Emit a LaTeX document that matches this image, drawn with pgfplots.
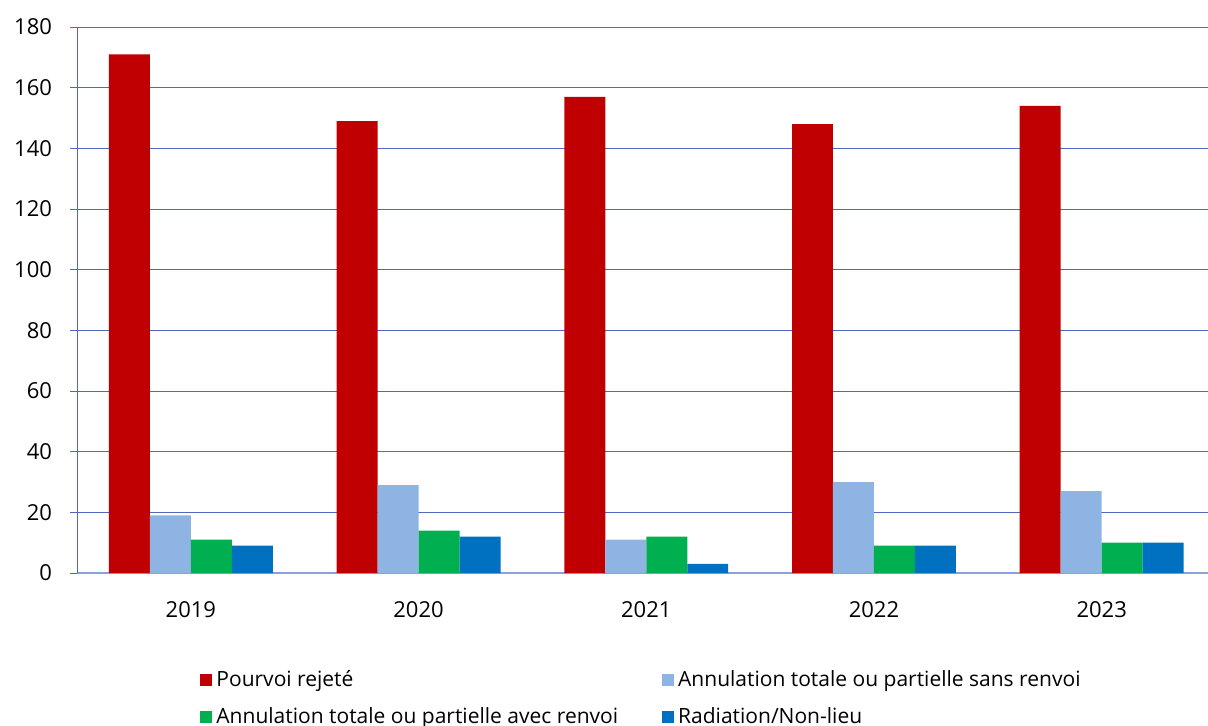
\documentclass[border=0pt]{standalone}
\usepackage{fontspec}
\setmainfont{Open Sans}
\usepackage{pgfplots}
\pgfplotsset{compat=1.18}
\definecolor{cRed}{RGB}{192,0,0}
\definecolor{cLight}{RGB}{142,180,227}
\definecolor{cGreen}{RGB}{0,176,80}
\definecolor{cBlue}{RGB}{0,112,192}
\definecolor{gridblue}{RGB}{80,104,190}
\definecolor{axblue}{RGB}{140,160,220}
\begin{document}
\begin{tikzpicture}[font=\fontsize{10.5}{12.6}\selectfont]
\useasboundingbox (-38.5pt,-76pt) rectangle (565.5pt,286.5pt);
\begin{axis}[
    scale only axis,
    width=565.5pt, height=273pt,
    xmin=-0.5, xmax=4.467,
    ymin=0, ymax=180,
    ytick={0,20,...,180},
    xtick={0,1,2,3,4},
    xticklabels={2019,2020,2021,2022,2023},
    major x tick style={draw=none},
    extra x ticks={-0.5,0.5,1.5,2.5,3.5},
    extra x tick labels={},
    extra x tick style={major tick length=4pt, tick align=outside,
        major tick style={draw=axblue, line width=0.6pt}, grid=none},
    axis lines*=left,
    y axis line style={draw=gridblue, line width=0.5pt},
    x axis line style={draw=axblue, line width=0.7pt},
    ymajorgrids,
    grid style={draw=gridblue, line width=0.5pt},
    major y tick style={draw=gridblue, line width=0.5pt},
    tick align=outside,
    major tick length=3.5pt,
    /pgf/number format/assume math mode=true,
    yticklabel style={xshift=-5.5pt, font=\fontsize{11}{13}\selectfont},
    xticklabel style={yshift=-7pt, font=\fontsize{11}{13}\selectfont},
    ybar=0pt, bar width=0.18,
    clip=false,
    legend columns=2,
    legend cell align=left,
    legend style={draw=none, fill=none, inner sep=0pt,
        at={(0.1088,-0.17)}, anchor=north west,
        /tikz/every even column/.append style={column sep=20pt},
        row sep=5pt},
    legend image code/.code={\fill[#1] (0pt,-3pt) rectangle (6pt,3pt);},
]
\addplot[fill=cRed, draw=none, bar shift=-0.27] coordinates {(0,171) (1,149) (2,157) (3,148) (4,154)};
\addlegendentry{Pourvoi rejeté}
\addplot[fill=cLight, draw=none, bar shift=-0.09] coordinates {(0,19) (1,29) (2,11) (3,30) (4,27)};
\addlegendentry{Annulation totale ou partielle sans renvoi}
\addplot[fill=cGreen, draw=none, bar shift=0.09] coordinates {(0,11) (1,14) (2,12) (3,9) (4,10)};
\addlegendentry{Annulation totale ou partielle avec renvoi}
\addplot[fill=cBlue, draw=none, bar shift=0.27] coordinates {(0,9) (1,12) (2,3) (3,9) (4,10)};
\addlegendentry{Radiation/Non-lieu}
\end{axis}
\end{tikzpicture}
\end{document}
